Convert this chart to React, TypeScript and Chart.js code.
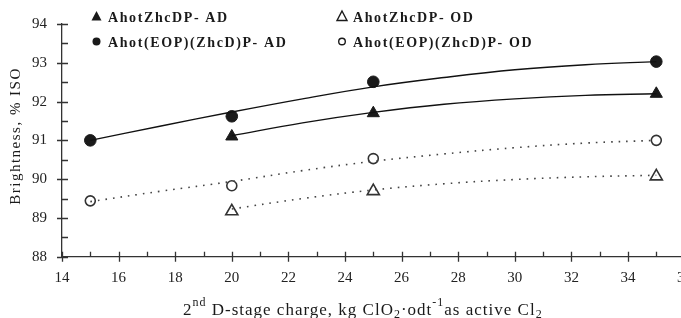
import React, { useEffect, useRef } from "react";
import { Chart, registerables } from "chart.js";
Chart.register(...registerables);

// ---- data ----
const xTicks = [14, 16, 18, 20, 22, 24, 26, 28, 30, 32, 34, 36];
const xMinorTicks = [15, 17, 19, 21, 23, 25, 27, 29, 31, 33, 35];
const yTicks = [88, 89, 90, 91, 92, 93, 94];
const yMinorTicks = [88.5, 89.5, 90.5, 91.5, 92.5, 93.5];

const seriesNames = [
  "AhotZhcDP- AD",
  "Ahot(EOP)(ZhcD)P- AD",
  "AhotZhcDP- OD",
  "Ahot(EOP)(ZhcD)P- OD",
];

const triX = [20, 25, 35];
const triAD = [91.1, 91.7, 92.2];
const triOD = [89.17, 89.69, 90.07];

const cirX = [15, 20, 25, 35];
const cirAD = [91.0, 91.62, 92.51, 93.03];
const cirOD = [89.44, 89.83, 90.53, 91.0];

// trend curves
const trendTriX = [20, 22.5, 25, 27.5, 30, 32.5, 35];
const trendTriAD = [91.12, 91.45, 91.72, 91.93, 92.07, 92.16, 92.2];
const trendTriOD = [89.23, 89.5, 89.72, 89.88, 89.99, 90.06, 90.1];

const trendCirX = [15, 17.5, 20, 22.5, 25, 27.5, 30, 32.5, 35];
const trendCirAD = [91.0, 91.37, 91.73, 92.07, 92.38, 92.62, 92.82, 92.95, 93.03];
const trendCirOD = [89.42, 89.69, 89.94, 90.22, 90.46, 90.65, 90.81, 90.93, 91.0];

const xTitleParts: [string, string][] = [
  ["2", "n"],
  ["nd", "sup"],
  [" D-stage charge, kg ClO", "n"],
  ["2", "sub"],
  ["·odt", "n"],
  ["-1", "sup"],
  ["as active Cl", "n"],
  ["2", "sub"],
];
const yTitle = "Brightness, % ISO";

const pts = (xs: number[], ys: number[]) => xs.map((x, i) => ({ x, y: ys[i] }));

const SERIF = "'Liberation Serif', 'Times New Roman', serif";
const INK = "#1a1a1a";

export default function App() {
  const ref = useRef<HTMLCanvasElement | null>(null);
  useEffect(() => {
    if (!ref.current) return;
    const decor = {
      id: "decor",
      afterDraw(chart: any) {
        const ctx = chart.ctx;
        const xs = chart.scales.x;
        const ys = chart.scales.y;
        const ax = ys.left + ys.width; // y axis line x
        const ay = xs.top; // x axis line y
        ctx.save();
        ctx.strokeStyle = "#333";
        ctx.lineWidth = 1.3;
        ctx.beginPath();
        for (const v of xTicks) {
          const p = Math.round(xs.getPixelForValue(v)) + 0.5;
          ctx.moveTo(p, ay - 5);
          ctx.lineTo(p, ay + 5);
        }
        for (const v of xMinorTicks) {
          const p = Math.round(xs.getPixelForValue(v)) + 0.5;
          ctx.moveTo(p, ay - 5);
          ctx.lineTo(p, ay);
        }
        for (const v of yTicks) {
          const p = Math.round(ys.getPixelForValue(v)) + 0.5;
          ctx.moveTo(ax - 5, p);
          ctx.lineTo(ax + 6, p);
        }
        for (const v of yMinorTicks) {
          const p = Math.round(ys.getPixelForValue(v)) + 0.5;
          ctx.moveTo(ax, p);
          ctx.lineTo(ax + 6, p);
        }
        ctx.stroke();

        // legend
        ctx.fillStyle = INK;
        ctx.strokeStyle = INK;
        const legendPos = [
          { sx: 96.5, tx: 108, y: 21.5, style: "triangle", filled: true },
          { sx: 96.5, tx: 108, y: 46.5, style: "circle", filled: true },
          { sx: 342, tx: 353, y: 21.5, style: "triangle", filled: false },
          { sx: 342, tx: 353, y: 46.5, style: "circle", filled: false },
        ];
        legendPos.forEach((l, i) => {
          const cy = l.y - 5;
          ctx.beginPath();
          if (l.style === "triangle") {
            ctx.moveTo(l.sx, cy - 5.5);
            ctx.lineTo(l.sx + 5, cy + 4);
            ctx.lineTo(l.sx - 5, cy + 4);
            ctx.closePath();
          } else {
            ctx.arc(l.sx, cy, l.filled ? 4 : 3.3, 0, Math.PI * 2);
          }
          if (l.filled) ctx.fill();
          else {
            ctx.lineWidth = 1.4;
            ctx.stroke();
          }
          ctx.font = `bold 14px ${SERIF}`;
          (ctx as any).letterSpacing = "1.6px";
          ctx.textAlign = "left";
          ctx.textBaseline = "alphabetic";
          ctx.fillText(seriesNames[i], l.tx, l.y);
          (ctx as any).letterSpacing = "0px";
        });

        // y title
        ctx.save();
        ctx.translate(16, 136);
        ctx.rotate(-Math.PI / 2);
        ctx.font = `15px ${SERIF}`;
        (ctx as any).letterSpacing = "1.5px";
        ctx.textAlign = "center";
        ctx.textBaseline = "middle";
        ctx.fillStyle = INK;
        ctx.fillText(yTitle, 0, 0);
        (ctx as any).letterSpacing = "0px";
        ctx.restore();

        // x title
        let x = 183;
        const base = 315;
        ctx.textAlign = "left";
        ctx.textBaseline = "alphabetic";
        ctx.fillStyle = INK;
        (ctx as any).letterSpacing = "1px";
        for (const [t, kind] of xTitleParts) {
          let dy = 0;
          if (kind === "n") ctx.font = `17px ${SERIF}`;
          else {
            ctx.font = `12px ${SERIF}`;
            dy = kind === "sup" ? -9 : 3;
          }
          ctx.fillText(t, x, base + dy);
          x += ctx.measureText(t).width;
        }
        (ctx as any).letterSpacing = "0px";
        ctx.restore();
      },
    };

    const lineBase = {
      type: "line",
      pointRadius: 0,
      tension: 0.4,
      fill: false,
    };

    const chart = new Chart(ref.current, {
      type: "scatter",
      data: {
        datasets: [
          { ...lineBase, data: pts(trendCirX, trendCirAD), borderColor: "#111", borderWidth: 1.4 },
          { ...lineBase, data: pts(trendTriX, trendTriAD), borderColor: "#111", borderWidth: 1.4 },
          {
            ...lineBase,
            data: pts(trendCirX, trendCirOD),
            borderColor: "#444",
            borderWidth: 1.6,
            borderDash: [1.6, 6],
          },
          {
            ...lineBase,
            data: pts(trendTriX, trendTriOD),
            borderColor: "#444",
            borderWidth: 1.6,
            borderDash: [1.6, 6],
          },
          {
            data: pts(triX, triAD),
            pointStyle: "triangle",
            pointRadius: 7,
            backgroundColor: INK,
            borderColor: INK,
            borderWidth: 1,
          },
          {
            data: pts(cirX, cirAD),
            pointStyle: "circle",
            pointRadius: 5.8,
            backgroundColor: INK,
            borderColor: INK,
            borderWidth: 1,
          },
          {
            data: pts(triX, triOD),
            pointStyle: "triangle",
            pointRadius: 7,
            backgroundColor: "#fff",
            borderColor: "#333",
            borderWidth: 1.6,
          },
          {
            data: pts(cirX, cirOD),
            pointStyle: "circle",
            pointRadius: 5,
            backgroundColor: "#fff",
            borderColor: "#333",
            borderWidth: 1.6,
          },
        ] as any,
      },
      options: {
        animation: false,
        responsive: false,
        devicePixelRatio: 1,
        layout: { padding: { top: 14, right: 35.4, left: 0, bottom: 0 } },
        plugins: { legend: { display: false }, tooltip: { enabled: false } },
        scales: {
          x: {
            type: "linear",
            min: 14,
            max: 36,
            afterFit: (s: any) => {
              s.height = 61.3;
            },
            afterBuildTicks: (s: any) => {
              s.ticks = xTicks.map((v) => ({ value: v }));
            },
            grid: { display: false, drawTicks: false },
            border: { display: true, color: "#333", width: 1.3 },
            ticks: {
              padding: 12,
              autoSkip: false,
              maxRotation: 0,
              color: "#222",
              font: { family: SERIF, size: 15 },
            },
          },
          y: {
            type: "linear",
            min: 88,
            max: 94,
            afterFit: (s: any) => {
              s.width = 62;
            },
            afterBuildTicks: (s: any) => {
              s.ticks = yTicks.map((v) => ({ value: v }));
            },
            grid: { display: false, drawTicks: false },
            border: { display: true, color: "#333", width: 1.3 },
            ticks: {
              padding: 15,
              color: "#222",
              font: { family: SERIF, size: 15 },
            },
          },
        },
      } as any,
      plugins: [decor],
    });
    return () => chart.destroy();
  }, []);

  return (
    <div
      style={{
        position: "fixed",
        left: 0,
        top: 0,
        width: 681,
        height: 318,
        overflow: "hidden",
        background: "#fff",
      }}
    >
      <canvas ref={ref} width={720} height={318} style={{ display: "block", width: 720, height: 318 }} />
    </div>
  );
}
